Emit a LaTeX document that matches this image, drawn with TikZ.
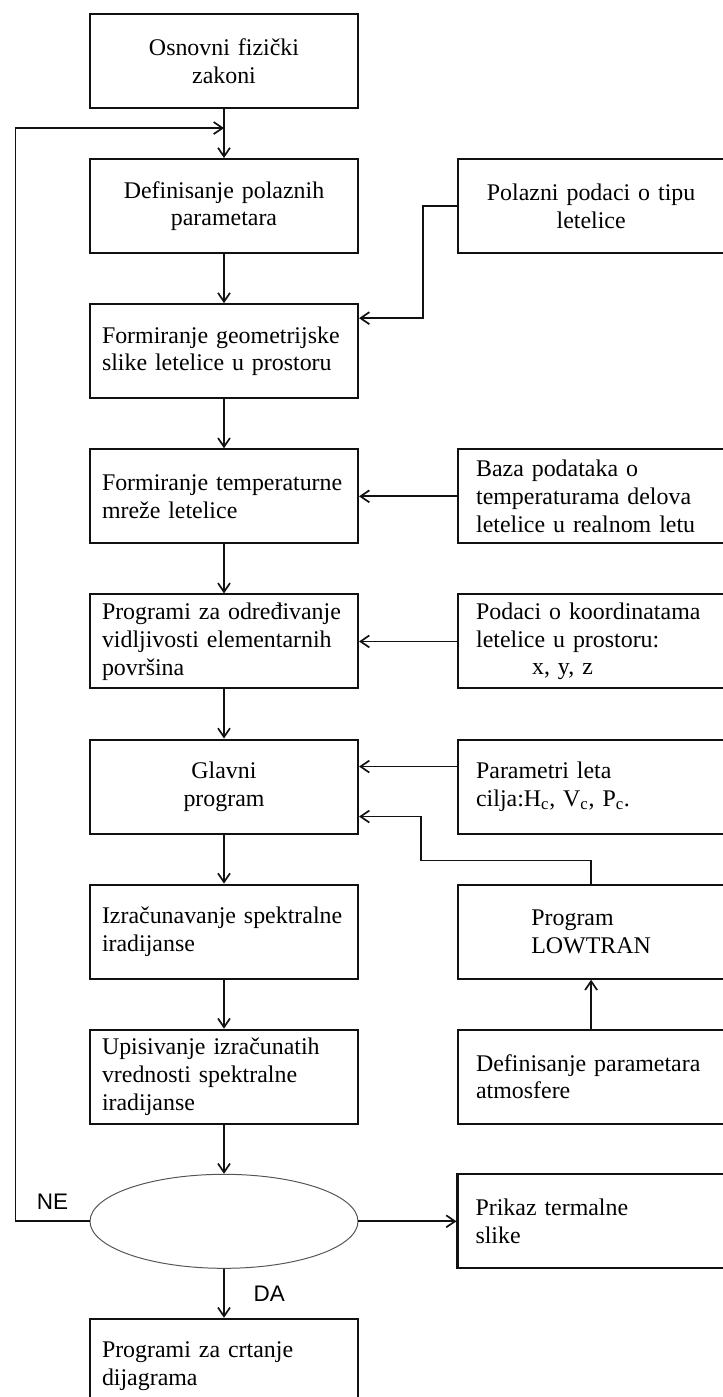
\documentclass[tikz,border=0pt]{standalone}
\usepackage{fontspec}
\setmainfont{Liberation Serif}
\setsansfont{Liberation Sans}
\usetikzlibrary{arrows.meta,positioning,shapes.geometric}
\definecolor{Ink}{HTML}{111111}
\definecolor{Faint}{HTML}{555555}
\tikzset{
  proc/.style={draw=Ink,line width=1.5pt,minimum width=6.7cm,minimum height=2.35cm,inner xsep=.3cm,inner ysep=2pt,text width=6.1cm,align=left,font=\fontsize{17pt}{19.8pt}\selectfont},
  procc/.style={proc,align=center},
  datab/.style={draw=Ink,line width=1.5pt,minimum width=6.65cm,minimum height=2.35cm,inner ysep=2pt,font=\fontsize{17pt}{19.8pt}\selectfont},
  data/.style={datab,inner xsep=.45cm,text width=5.75cm,align=left},
  decide/.style={draw=Faint,ellipse,line width=.7pt,minimum width=6.7cm,minimum height=2.35cm,inner sep=0pt},
  flow/.style={-{Straight Barb[length=2.2mm,width=3mm]},draw=Ink,line width=1.2pt},
  answer/.style={font=\sffamily\fontsize{16pt}{19pt}\selectfont},
}

\begin{document}
\begin{tikzpicture}[node distance=1.225cm and 2.45cm]
        \useasboundingbox (0,0) rectangle (18.075,-34.925);
        \node[procc] (osnovni) at (5.6,-1.525) {Osnovni fizički\\zakoni};
        \node[procc,below=of osnovni] (polazne) {Definisanje polaznih\\parametara};
        \node[proc,below=of polazne] (geom) {Formiranje geometrijske\\slike letelice u prostoru};
        \node[proc,below=of geom] (temp) {Formiranje temperaturne\\mreže letelice};
        \node[proc,below=of temp] (vidlj) {Programi za određivanje\\vidljivosti elementarnih\\površina};
        \node[procc,below=of vidlj] (glavni) {Glavni\\program};
        \node[proc,below=of glavni] (izrac) {Izračunavanje spektralne\\iradijanse};
        \node[proc,below=of izrac] (upis) {Upisivanje izračunatih\\vrednosti spektralne\\iradijanse};
        \node[decide,below=of upis] (provera) {};
        \node[proc,below=of provera] (crtanje) {Programi za crtanje\\dijagrama};
        \node[data,right=of polazne,align=center] (tip) {Polazni podaci o tipu\\letelice};
        \node[data,right=of temp] (baza) {Baza podataka o\\temperaturama delova\\letelice u realnom letu};
        \node[data,right=of vidlj] (koord) {Podaci o koordinatama\\letelice u prostoru:\\\hspace*{1.4cm}x, y, z};
        \node[data,right=of glavni] (param) {Parametri leta\\cilja:H\textsubscript{c}, V\textsubscript{c}, P\textsubscript{c}.};
        \node[datab,right=of izrac,align=left] (lowtran) {Program\\LOWTRAN};
        \node[data,right=of upis] (atmos) {Definisanje parametara\\atmosfere};
        \node[data,right=of provera] (prikaz) {Prikaz termalne\\slike};
        \coordinate (povratak) at ([yshift=-.475cm]osnovni.south);
        \draw[flow] (osnovni) -- (polazne);
        \draw[flow] (polazne) -- (geom);
        \draw[flow] (geom) -- (temp);
        \draw[flow] (temp) -- (vidlj);
        \draw[flow] (vidlj) -- (glavni);
        \draw[flow] (glavni) -- (izrac);
        \draw[flow] (izrac) -- (upis);
        \draw[flow] (upis) -- (provera);
        \draw[flow] (tip.west) -- ++(-.85,0) |- ([yshift=-.375cm]geom.north east);
        \draw[flow] (baza) -- (temp);
        \draw[flow] (koord) -- (vidlj);
        \draw[flow] ([yshift=.5cm]param.west) -- ([yshift=.5cm]glavni.east);
        \draw[flow] (lowtran.north) -- ++(0,.575) -| ([xshift=1.55cm,yshift=-.75cm]glavni.east) -- ([yshift=-.75cm]glavni.east);
        \draw[flow] (atmos) -- (lowtran);
        \draw[flow] (provera) -- (prikaz);
        \draw[flow] (provera.west) -- node[answer,above=.15cm] {NE} ++(-1.85,0) |- (povratak);
        \draw[flow] (provera) -- node[answer,right=.6cm] {DA} (crtanje);
      \end{tikzpicture}
\end{document}
